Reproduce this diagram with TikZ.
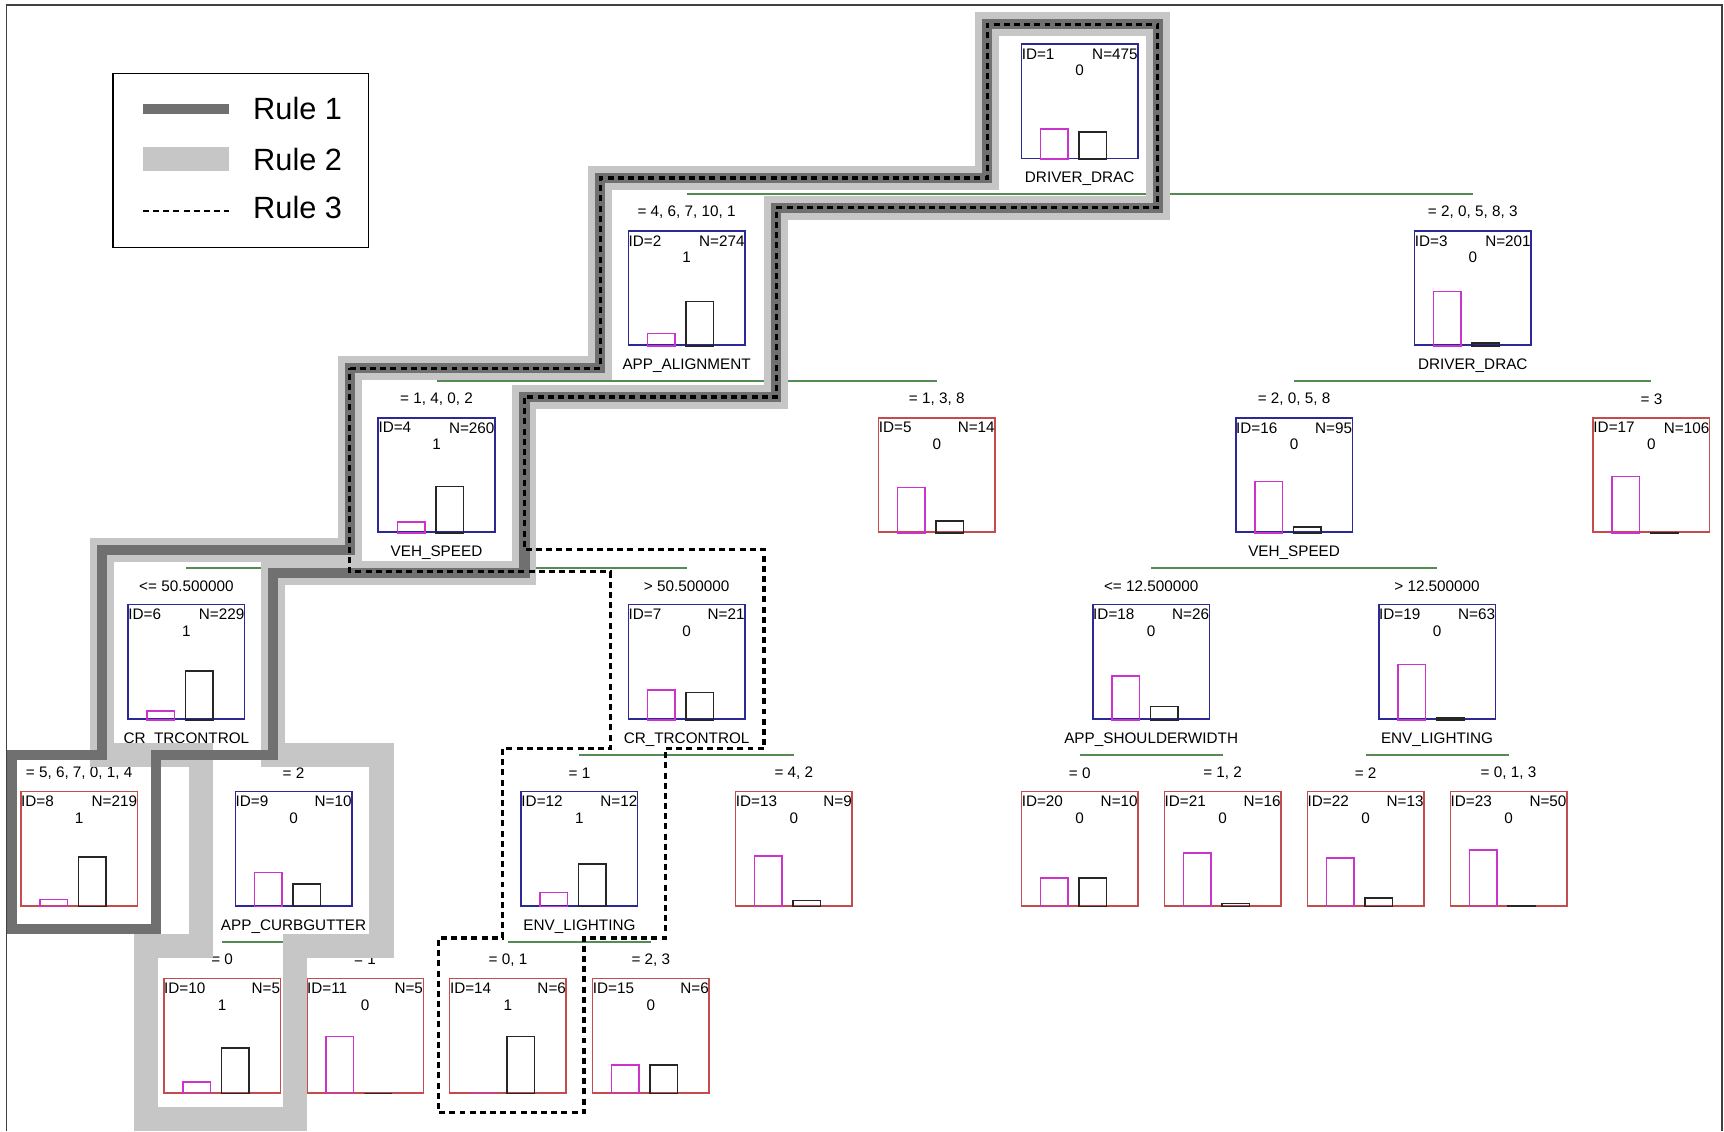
\documentclass[tikz,border=0pt]{standalone}
\usepackage{fontspec}
\setmainfont{Liberation Sans}
\usepackage{xcolor}
\usetikzlibrary{calc}

\definecolor{innerblue}{RGB}{44,40,150}
\definecolor{leafred}{RGB}{196,76,76}
\definecolor{barpink}{RGB}{204,51,204}
\definecolor{splitgreen}{RGB}{84,138,84}
\definecolor{ruledark}{RGB}{112,112,112}
\definecolor{rulelight}{RGB}{198,198,198}

% name, x, y, box style, id, n, class, share of 0, share of 1
\newcommand{\dtnode}[9]{%
  \node[#4] (#1) at (#2,#3) {};
  \node[idlbl, anchor=north west] (#1id) at (#1.north west) {ID=#5};
  \node[idlbl, anchor=north east] (#1n) at (#1.north east) {N=#6};
  \node[lbl] (#1cls) at ($(#1.north)+(0,25)$) {#7};
  \draw[bar0] ($(#1.south west)+(18,0)$) rectangle ++(25,-52*#8);
  \draw[bar1] ($(#1.south west)+(53,0)$) rectangle ++(25,-52*#9);
}

\begin{document}
\begin{tikzpicture}[
  x=0.022cm, y=-0.022cm,
  tbox/.style={draw, line width=0.85pt, minimum width=2.332cm,
               minimum height=2.288cm, inner sep=0pt, fill=white},
  ibox/.style={tbox, draw=innerblue},
  lbox/.style={tbox, draw=leafred},
  lbl/.style={font=\fontsize{8.7}{9.5}\selectfont, inner sep=0pt},
  idlbl/.style={lbl, inner xsep=0.4pt, inner ysep=2.8pt},
  bar0/.style={draw=barpink, line width=0.85pt},
  bar1/.style={draw=black!85, line width=0.85pt},
  split/.style={draw=splitgreen, line width=0.9pt},
  frame/.style={draw=black!75, line width=0.8pt},
  ruletwo/.style={draw=rulelight, line width=13.7pt, line join=miter},
  ruleone/.style={draw=ruledark, line width=5.8pt, line join=miter},
  rulethree/.style={draw=black, line width=1.9pt, dash pattern=on 3.4pt off 2.4pt},
  legendbox/.style={draw, line width=0.9pt, minimum width=5.104cm,
                    minimum height=3.476cm, inner sep=0pt},
  lgdtxt/.style={font=\fontsize{17.5}{20}\selectfont, inner sep=0pt},
  lgdthree/.style={draw=black, line width=1.5pt, dash pattern=on 3.4pt off 2.4pt}
]
\path[use as bounding box, fill=white] (0,0) rectangle (1568,1029);
\draw[frame] (6,1029) -- (6,4.5) -- (1566,4.5) -- (1566,1029);

% Level 0
\dtnode{n1}{982}{92}{ibox}{1}{475}{0}{0.53}{0.47}
% Level 1
\dtnode{n2}{624.5}{262}{ibox}{2}{274}{1}{0.22}{0.78}
\dtnode{n3}{1339.5}{262}{ibox}{3}{201}{0}{0.95}{0.05}
% Level 2
\dtnode{n4}{397}{432}{ibox}{4}{260}{1}{0.19}{0.81}
\dtnode{n5}{852}{432}{lbox}{5}{14}{0}{0.79}{0.21}
\dtnode{n16}{1177}{432}{ibox}{16}{95}{0}{0.9}{0.1}
\dtnode{n17}{1502}{432}{lbox}{17}{106}{0}{0.99}{0.01}
% Level 3
\dtnode{n6}{169.5}{602}{ibox}{6}{229}{1}{0.15}{0.85}
\dtnode{n7}{624.5}{602}{ibox}{7}{21}{0}{0.52}{0.48}
\dtnode{n18}{1047}{602}{ibox}{18}{26}{0}{0.77}{0.23}
\dtnode{n19}{1307}{602}{ibox}{19}{63}{0}{0.97}{0.03}
% Level 4
\dtnode{n8}{72}{772}{lbox}{8}{219}{1}{0.13}{0.87}
\dtnode{n9}{267}{772}{ibox}{9}{10}{0}{0.6}{0.4}
\dtnode{n12}{527}{772}{ibox}{12}{12}{1}{0.25}{0.75}
\dtnode{n13}{722}{772}{lbox}{13}{9}{0}{0.89}{0.11}
\dtnode{n20}{982}{772}{lbox}{20}{10}{0}{0.5}{0.5}
\dtnode{n21}{1112}{772}{lbox}{21}{16}{0}{0.94}{0.06}
\dtnode{n22}{1242}{772}{lbox}{22}{13}{0}{0.85}{0.15}
\dtnode{n23}{1372}{772}{lbox}{23}{50}{0}{0.99}{0.01}
% Level 5
\dtnode{n10}{202}{942}{lbox}{10}{5}{1}{0.2}{0.8}
\dtnode{n11}{332}{942}{lbox}{11}{5}{0}{1}{0}
\dtnode{n14}{462}{942}{lbox}{14}{6}{1}{0}{1}
\dtnode{n15}{592}{942}{lbox}{15}{6}{0}{0.5}{0.5}

% Split variables
\foreach \n/\t in {n1/DRIVER\_DRAC, n2/APP\_ALIGNMENT, n3/DRIVER\_DRAC,
    n4/VEH\_SPEED, n16/VEH\_SPEED, n6/CR\_TRCONTROL, n7/CR\_TRCONTROL,
    n18/APP\_SHOULDERWIDTH, n19/ENV\_LIGHTING, n9/APP\_CURBGUTTER,
    n12/ENV\_LIGHTING}
  \node[lbl] (s\n) at ($(\n.south)+(0,18)$) {\t};

% Conditions
\foreach \n/\t in {n2/{= 4, 6, 7, 10, 1}, n3/{= 2, 0, 5, 8, 3},
    n4/{= 1, 4, 0, 2}, n5/{= 1, 3, 8}, n16/{= 2, 0, 5, 8}, n17/{= 3},
    n6/{<= 50.500000}, n7/{> 50.500000}, n18/{<= 12.500000}, n19/{> 12.500000},
    n8/{= 5, 6, 7, 0, 1, 4}, n9/{= 2}, n12/{= 1}, n13/{= 4, 2},
    n20/{= 0}, n21/{= 1, 2}, n22/{= 2}, n23/{= 0, 1, 3},
    n10/{= 0}, n11/{= 1}, n14/{= 0, 1}, n15/{= 2, 3}}
  \node[lbl] (c\n) at ($(\n.north)+(0,-16.5)$) {\t};

% Split lines
\foreach \p/\l/\r in {n1/n2/n3, n2/n4/n5, n3/n16/n17, n4/n6/n7, n16/n18/n19,
    n6/n8/n9, n7/n12/n13, n18/n20/n21, n19/n22/n23, n9/n10/n11, n12/n14/n15}
  \draw[split] ($(\l.north |- \p.south)+(0,32)$) -- ($(\r.north |- \p.south)+(0,32)$);

% Rule 2
\draw[ruletwo] (318,335) -- (546,335) -- (546,162) -- (898,162) -- (898,22)
  -- (1053,22) -- (1053,189) -- (706,189) -- (706,361) -- (477,361)
  -- (477,521) -- (248,521) -- (248,687) -- (347,687) -- (347,860)
  -- (268,860) -- (268,1018) -- (133,1018) -- (133,860) -- (183,860)
  -- (183,687) -- (93,687) -- (93,500) -- (318,500) -- cycle;
% Rule 1
\draw[ruleone] (318,335) -- (546,335) -- (546,162) -- (898,162) -- (898,22)
  -- (1053,22) -- (1053,189) -- (706,189) -- (706,361) -- (477,361)
  -- (477,521) -- (248,521) -- (248,687) -- (142,687) -- (142,845)
  -- (11,845) -- (11,687) -- (93,687) -- (93,500) -- (318,500) -- cycle;
% Rule 3
\draw[rulethree] (318,335) -- (546,335) -- (546,162) -- (898,162) -- (898,22)
  -- (1053,22) -- (1053,189) -- (706,189) -- (706,361) -- (477,361)
  -- (477,500) -- (695,500) -- (695,681) -- (605,681) -- (605,853)
  -- (531,853) -- (531,1012) -- (399,1012) -- (399,853) -- (457,853)
  -- (457,681) -- (555,681) -- (555,520) -- (318,520) -- cycle;

% Legend
\node[legendbox] (lgd) at (219,146) {};
\node[lgdtxt, anchor=base west] (r1) at (230,109) {Rule 1};
\node[lgdtxt, anchor=base west] (r2) at (230,155) {Rule 2};
\node[lgdtxt, anchor=base west] (r3) at (230,199) {Rule 3};
\draw[ruleone] ($(r1.west)+(-100,0)$) -- ($(r1.west)+(-22,0)$);
\draw[ruletwo] ($(r2.west)+(-100,0)$) -- ($(r2.west)+(-22,0)$);
\draw[lgdthree] ($(r3.west)+(-100,3)$) -- ($(r3.west)+(-22,3)$);
\end{tikzpicture}
\end{document}
